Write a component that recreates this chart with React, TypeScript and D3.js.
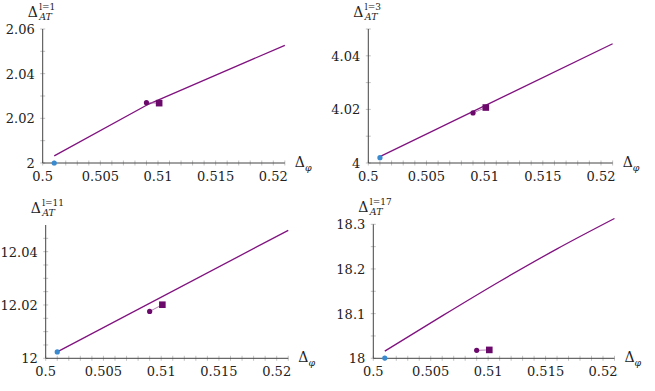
import React, { useEffect, useRef } from 'react';
import * as d3 from 'd3';

// values
const xTicks = [0.5, 0.505, 0.51, 0.515, 0.52];
const xTickLabels = ['0.5', '0.505', '0.51', '0.515', '0.52'];

const spins = ['1', '3', '11', '17'];
const yTicks1 = [2, 2.02, 2.04, 2.06];
const yTicks3 = [4, 4.02, 4.04];
const yTicks11 = [12, 12.02, 12.04];
const yTicks17 = [18, 18.1, 18.2, 18.3];
const yMinor1 = [2.01, 2.03, 2.05];
const yMinor3 = [4.01, 4.03, 4.05];
const yMinor11 = [12.005, 12.01, 12.015, 12.025, 12.03, 12.035, 12.045];
const yMinor17 = [18.05, 18.15, 18.25];
const yMax = [2.06, 4.05, 12.05, 18.3];

// fitted curves
const curve1 = [[0.501, 2.0032], [0.5092, 2.0264], [0.521, 2.0527]];
const curve3 = [[0.501, 4.0024], [0.521, 4.0445]];
const curve11 = [[0.501, 12.0024], [0.521, 12.048]];
const curve17 = [[0.501, 18.016], [0.506, 18.095], [0.511, 18.172], [0.516, 18.245], [0.521, 18.313]];

// blue reference point
const bluePts = [[0.501, 2.0], [0.501, 4.002], [0.501, 12.0024], [0.501, 18.0005]];
// purple circle and square estimates
const circlePts = [[0.509, 2.027], [0.509, 4.0187], [0.509, 12.0176], [0.509, 18.0178]];
const squarePts = [[0.5101, 2.0268], [0.5101, 4.0207], [0.5101, 12.0201], [0.5101, 18.0188]];

const panels = [
  { x0: 42.7, x1: 273.3, y0: 163, y1: 29, yTicks: yTicks1, yMinor: yMinor1, curve: curve1, smooth: false, yLabels: ['2', '2.02', '2.04', '2.06'] },
  { x0: 368.3, x1: 601, y0: 163, y1: 29, yTicks: yTicks3, yMinor: yMinor3, curve: curve3, smooth: false, yLabels: ['4', '4.02', '4.04'] },
  { x0: 45.7, x1: 276.7, y0: 358.3, y1: 225, yTicks: yTicks11, yMinor: yMinor11, curve: curve11, smooth: false, yLabels: ['12', '12.02', '12.04'] },
  { x0: 373.3, x1: 603, y0: 358.3, y1: 224.3, yTicks: yTicks17, yMinor: yMinor17, curve: curve17, smooth: true, yLabels: ['18', '18.1', '18.2', '18.3'] },
];

const lineColor = '#80127f';
const markColor = '#6c0a6c';
const blue = '#3a8ad0';
const font = "'DejaVu Serif', 'Liberation Serif', serif";

function drawPanel(svg: any, p: any, i: number) {
  const x = d3.scaleLinear().domain([0.5, 0.52]).range([p.x0, p.x1]);
  const y = d3.scaleLinear().domain([p.yTicks[0], yMax[i]]).range([p.y0, p.y1]);
  const g = svg.append('g');
  const xEnd = x(0.521);

  // minor ticks
  const xMinor = d3.range(0, 22).map(k => 0.5 + k * 0.001);
  g.selectAll('.xm').data(xMinor).enter().append('line')
    .attr('x1', (d: number) => x(d)).attr('x2', (d: number) => x(d))
    .attr('y1', p.y0 - 2.5).attr('y2', p.y0 + 2.5)
    .attr('stroke', '#999').attr('stroke-width', 0.6);
  g.selectAll('.ym').data(p.yMinor.concat(p.yTicks)).enter().append('line')
    .attr('x1', p.x0 - 2.5).attr('x2', p.x0 + 2.5)
    .attr('y1', (d: number) => y(d)).attr('y2', (d: number) => y(d))
    .attr('stroke', '#999').attr('stroke-width', 0.6);

  // axes lines
  g.append('line').attr('x1', p.x0).attr('x2', xEnd).attr('y1', p.y0).attr('y2', p.y0)
    .attr('stroke', '#444').attr('stroke-width', 1);
  g.append('line').attr('x1', p.x0).attr('x2', p.x0).attr('y1', p.y0).attr('y2', y(yMax[i]))
    .attr('stroke', '#444').attr('stroke-width', 1);

  // tick labels
  g.selectAll('.xl').data(xTicks).enter().append('text')
    .attr('x', (d: number) => x(d)).attr('y', p.y0 + 18)
    .attr('text-anchor', 'middle').attr('font-family', font).attr('font-size', 13).attr('fill', '#222')
    .text((d: number, k: number) => xTickLabels[k]);
  g.selectAll('.yl').data(p.yTicks).enter().append('text')
    .attr('x', p.x0 - 8).attr('y', (d: number) => y(d) + 5)
    .attr('text-anchor', 'end').attr('font-family', font).attr('font-size', 13).attr('fill', '#222')
    .text((d: number, k: number) => p.yLabels[k]);

  // axis titles
  const tx = p.x0 - 15;
  const ty = y(yMax[i]) - 12;
  g.append('text').attr('x', tx).attr('y', ty)
    .attr('font-family', font).attr('fill', '#222').attr('font-size', 14).text('Δ');
  g.append('text').attr('x', tx + 11.5).attr('y', ty - 7)
    .attr('font-family', font).attr('fill', '#222').attr('font-size', 9)
    .text('l=' + spins[i]);
  g.append('text').attr('x', tx + 11.5).attr('y', ty + 3)
    .attr('font-family', font).attr('font-style', 'italic').attr('fill', '#222').attr('font-size', 9.5)
    .text('AT');

  const xt = g.append('text').attr('x', xEnd + 10).attr('y', p.y0 + 4)
    .attr('font-family', font).attr('fill', '#222').attr('font-size', 14);
  xt.append('tspan').text('Δ');
  xt.append('tspan').attr('font-size', 9.5).attr('font-style', 'italic').attr('dy', 4).text('φ');

  // curve
  const line = d3.line<any>().x(d => x(d[0])).y(d => y(d[1]))
    .curve(p.smooth ? d3.curveMonotoneX : d3.curveLinear);
  g.append('path').attr('d', line(p.curve)).attr('fill', 'none')
    .attr('stroke', lineColor).attr('stroke-width', 1.3);

  // circle -> square connector
  g.append('line')
    .attr('x1', x(circlePts[i][0])).attr('y1', y(circlePts[i][1]))
    .attr('x2', x(squarePts[i][0])).attr('y2', y(squarePts[i][1]))
    .attr('stroke', '#a060a0').attr('stroke-width', 0.8);
  g.append('circle').attr('cx', x(circlePts[i][0])).attr('cy', y(circlePts[i][1])).attr('r', 2.6)
    .attr('fill', markColor);
  g.append('rect').attr('x', x(squarePts[i][0]) - 3.3).attr('y', y(squarePts[i][1]) - 3.3)
    .attr('width', 6.6).attr('height', 6.6).attr('fill', markColor);

  // blue point
  g.append('circle').attr('cx', x(bluePts[i][0])).attr('cy', y(bluePts[i][1])).attr('r', 2.6)
    .attr('fill', blue);
}

export default function App() {
  const ref = useRef<SVGSVGElement>(null);

  useEffect(() => {
    const svg = d3.select(ref.current);
    svg.selectAll('*').remove();
    panels.forEach((p, i) => drawPanel(svg, p, i));
  }, []);

  return (
    <div style={{ position: 'fixed', left: 0, top: 0 }}>
      <svg ref={ref} width={655} height={391} style={{ background: 'white', display: 'block' }} />
    </div>
  );
}
